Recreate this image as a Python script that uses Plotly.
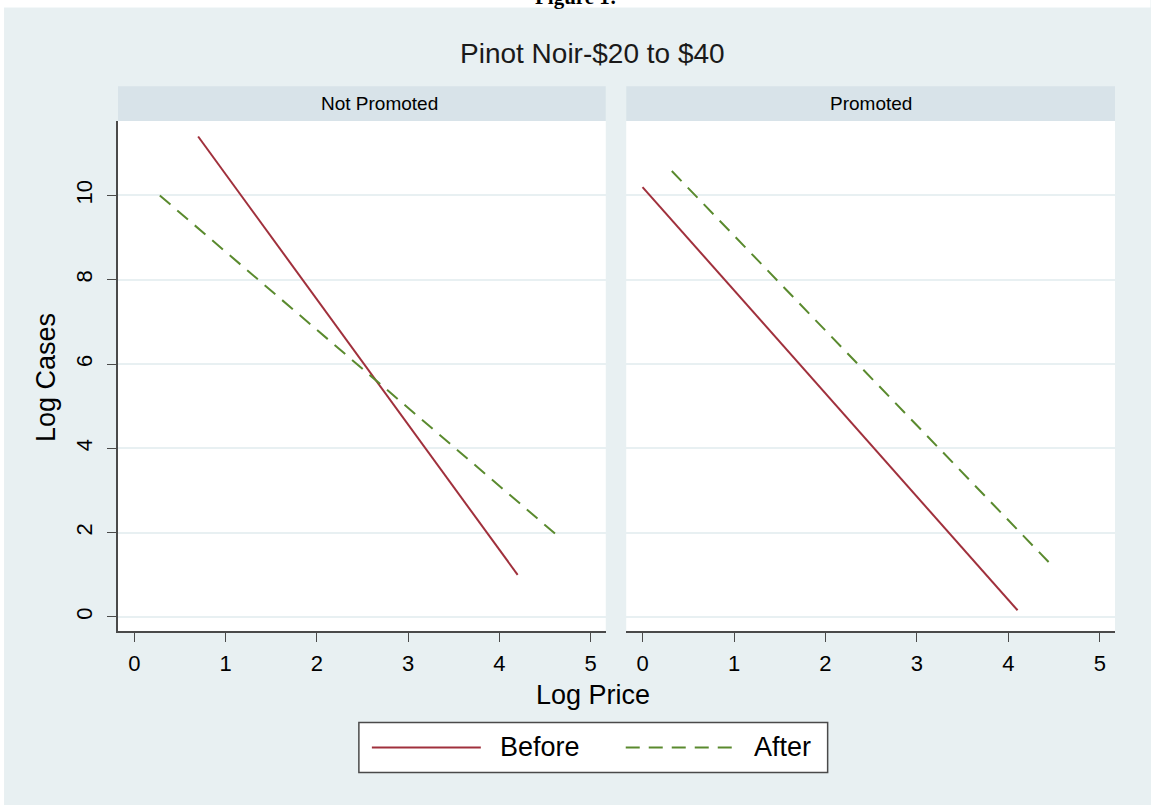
import plotly.graph_objects as go

# ---- data ----
panels = ["Not Promoted", "Promoted"]
series = ["Before", "After"]

np_before_price = [0.70, 4.20]
np_before_cases = [11.40, 1.00]
np_after_price = [0.28, 4.62]
np_after_cases = [10.00, 1.96]

p_before_price = [0.00, 4.10]
p_before_cases = [10.20, 0.16]
p_after_price = [0.32, 4.45]
p_after_cases = [10.58, 1.28]

x_ticks = [0, 1, 2, 3, 4, 5]
y_ticks = [0, 2, 4, 6, 8, 10]

title_text = "Pinot Noir-$20 to $40"
x_title = "Log Price"
y_title = "Log Cases"
fig_caption = "Figure 1:"

# ---- styling ----
W, H = 1151, 805
L, R, T, B = 118, 1115.5, 121.3, 630.7   # plot area pixel edges
PW, PH = R - L, B - T

def px(x):
    return (x - L) / PW

def py(y):
    return (B - y) / PH

BG = "#E8F0F2"
STRIP = "#D8E3E9"
GRID = "#E8F0F2"
AXC = "#4A4A4A"
RED = "#A0303C"
GREEN = "#5A8A2E"
FONT = "Liberation Sans, Arial, sans-serif"
DASH = "14px,9px"

dom1 = [0, px(606)]
dom2 = [px(626.5), 1]
xr = [-0.178, 5.165]
yr = [-0.3325, 11.767]

fig = go.Figure()
fig.add_trace(go.Scatter(x=np_before_price, y=np_before_cases, mode="lines", name=series[0],
                         line=dict(color=RED, width=2), xaxis="x", yaxis="y", showlegend=False))
fig.add_trace(go.Scatter(x=np_after_price, y=np_after_cases, mode="lines", name=series[1],
                         line=dict(color=GREEN, width=2, dash=DASH), xaxis="x", yaxis="y", showlegend=False))
fig.add_trace(go.Scatter(x=p_before_price, y=p_before_cases, mode="lines", name=series[0],
                         line=dict(color=RED, width=2), xaxis="x2", yaxis="y2", showlegend=False))
fig.add_trace(go.Scatter(x=p_after_price, y=p_after_cases, mode="lines", name=series[1],
                         line=dict(color=GREEN, width=2, dash=DASH), xaxis="x2", yaxis="y2", showlegend=False))

xcommon = dict(range=xr, tickmode="array", tickvals=x_ticks, ticktext=[str(v) for v in x_ticks],
               showline=True, linecolor=AXC, linewidth=1.5, ticks="outside", ticklen=9,
               tickcolor=AXC, tickwidth=1.3, showgrid=False, zeroline=False, ticklabelstandoff=3,
               tickfont=dict(family=FONT, size=22, color="black"), fixedrange=True)
ycommon = dict(range=yr, tickmode="array", tickvals=y_ticks, ticktext=[str(v) for v in y_ticks],
               showgrid=True, gridcolor=GRID, gridwidth=2, zeroline=False, fixedrange=True)

fig.update_layout(
    width=W, height=H,
    margin=dict(l=L, r=W - R, t=T, b=H - B, pad=0),
    paper_bgcolor=BG, plot_bgcolor="white",
    showlegend=False,
    xaxis=dict(domain=dom1, anchor="y", **xcommon),
    xaxis2=dict(domain=dom2, anchor="y2", **xcommon),
    yaxis=dict(domain=[0, 1], anchor="x", showline=True, linecolor=AXC, linewidth=1.5,
               ticks="outside", ticklen=9, tickcolor=AXC, tickwidth=1.3, tickangle=-90,
               ticklabelstandoff=6,
               tickfont=dict(family=FONT, size=22, color="black"), **ycommon),
    yaxis2=dict(domain=[0, 1], anchor="x2", showline=False, ticks="", showticklabels=False,
                matches="y", **ycommon),
)

shapes = []
# white page margin at top and left
shapes.append(dict(type="rect", xref="paper", yref="paper", x0=px(0), x1=px(W), y0=py(8), y1=py(-5),
                   fillcolor="white", line=dict(width=0), layer="below"))
shapes.append(dict(type="rect", xref="paper", yref="paper", x0=px(-5), x1=px(4), y0=py(H + 5), y1=py(-5),
                   fillcolor="white", line=dict(width=0), layer="below"))
# strips
for d in (dom1, dom2):
    shapes.append(dict(type="rect", xref="paper", yref="paper", x0=d[0], x1=d[1], y0=py(121.3), y1=py(86.7),
                       fillcolor=STRIP, line=dict(width=0), layer="below"))
# legend box and samples
shapes.append(dict(type="rect", xref="paper", yref="paper", x0=px(359), x1=px(828), y0=py(772), y1=py(722),
                   fillcolor="white", line=dict(color=AXC, width=1.5), layer="above"))
shapes.append(dict(type="line", xref="paper", yref="paper", x0=px(372), x1=px(481), y0=py(747), y1=py(747),
                   line=dict(color=RED, width=2)))
shapes.append(dict(type="line", xref="paper", yref="paper", x0=px(626), x1=px(736), y0=py(747), y1=py(747),
                   line=dict(color=GREEN, width=2, dash=DASH)))
fig.update_layout(shapes=shapes)

ann = []
ann.append(dict(text="<b>" + fig_caption + "</b>", x=px(576), y=py(-3), xref="paper", yref="paper",
                showarrow=False, xanchor="center", yanchor="middle",
                font=dict(family="Liberation Serif, Times New Roman, serif", size=21, color="black")))
ann.append(dict(text=title_text, x=px(593), y=py(54), xref="paper", yref="paper", showarrow=False,
                xanchor="center", yanchor="middle", font=dict(family=FONT, size=28, color="#1a1a1a")))
ann.append(dict(text=panels[0], x=px(380), y=py(104), xref="paper", yref="paper", showarrow=False,
                xanchor="center", yanchor="middle", font=dict(family=FONT, size=19, color="black")))
ann.append(dict(text=panels[1], x=px(871), y=py(104), xref="paper", yref="paper", showarrow=False,
                xanchor="center", yanchor="middle", font=dict(family=FONT, size=19, color="black")))
ann.append(dict(text=x_title, x=px(593), y=py(695), xref="paper", yref="paper", showarrow=False,
                xanchor="center", yanchor="middle", font=dict(family=FONT, size=27, color="black")))
ann.append(dict(text=y_title, x=px(46), y=py(378), xref="paper", yref="paper", showarrow=False,
                xanchor="center", yanchor="middle", textangle=-90,
                font=dict(family=FONT, size=27, color="black")))
ann.append(dict(text=series[0], x=px(498), y=py(747), xref="paper", yref="paper", showarrow=False,
                xanchor="left", yanchor="middle", font=dict(family=FONT, size=27, color="black")))
ann.append(dict(text=series[1], x=px(752), y=py(747), xref="paper", yref="paper", showarrow=False,
                xanchor="left", yanchor="middle", font=dict(family=FONT, size=27, color="black")))
fig.update_layout(annotations=ann)

fig.write_html("out.html")
